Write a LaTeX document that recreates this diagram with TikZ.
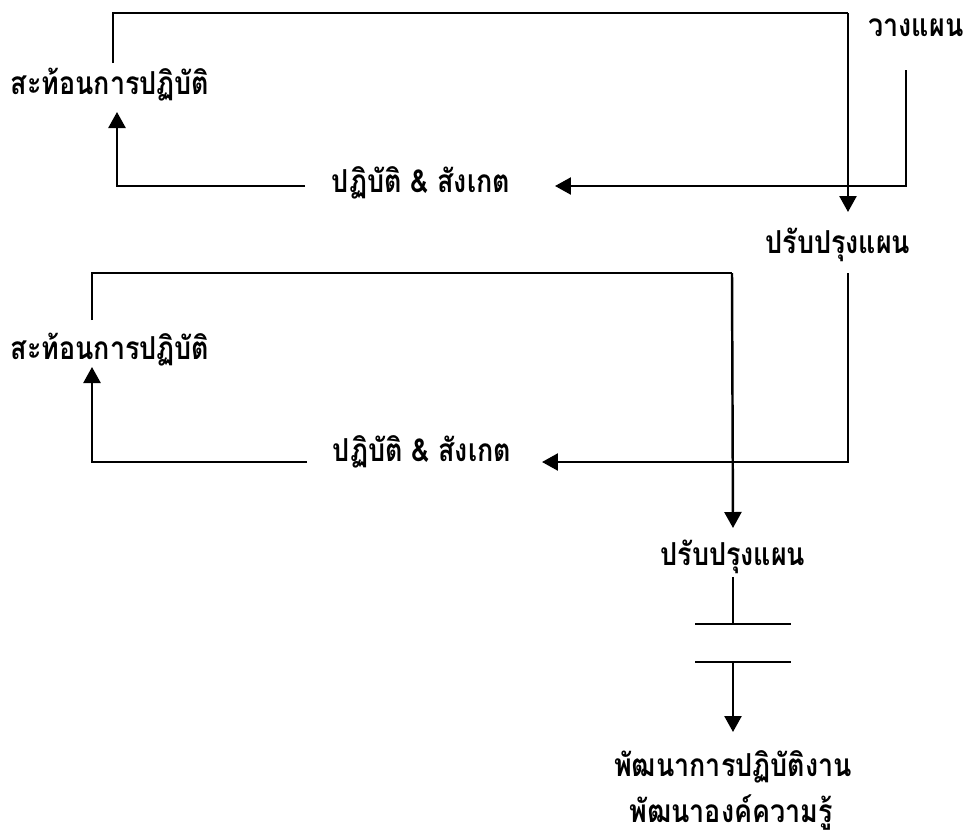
\documentclass[tikz,border=0pt]{standalone}
\usepackage{fontspec}
\usepackage{tikz}
\usetikzlibrary{positioning, arrows.meta, calc}
\newfontfamily\thaifont[Script=Thai, FakeStretch=0.85]{Loma}

\begin{document}
\begin{tikzpicture}[x=0.02cm, y=-0.02cm,
    lbl/.style={font=\thaifont\bfseries\fontsize{18}{21}\selectfont, inner sep=0pt},
    flow/.style={line width=1.4pt, black},
    arr/.style={flow, -{Triangle[length=0.32cm, width=0.34cm]}}]
  \useasboundingbox (0,0) rectangle (965,839);

  \node[lbl] (plan) at (916,28) {วางแผน};
  \node[lbl] (refl1) at (110,85) {สะท้อนการปฏิบัติ};
  \node[lbl] (act1) at (421,183) {ปฏิบัติ \& สังเกต};
  \node[lbl] (imp1) at (838,245) {ปรับปรุงแผน};

  \node[lbl] (refl2) at (110,350) {สะท้อนการปฏิบัติ};
  \node[lbl] (act2) at (422,452) {ปฏิบัติ \& สังเกต};
  \node[lbl] (imp2) at (733,557) {ปรับปรุงแผน};

  \node[lbl] (dev1) at (733,767) {พัฒนาการปฏิบัติงาน};
  \node[lbl] (dev2) at (731,813) {พัฒนาองค์ความรู้};

  % first cycle
  \coordinate (tl1) at (113,13);
  \coordinate (tr1) at (848,13);
  \draw[flow] ($(refl1)+(3,-22)$) -- (tl1) -- (tr1);
  \draw[arr] (tr1) -- ($(imp1)+(10,-33)$);
  \draw[arr] ($(plan)+(-10,42)$) |- ($(act1)+(134,3)$);
  \draw[arr] ($(act1)+(-116,3)$) -| ($(refl1)+(7,27)$);

  % second cycle
  \coordinate (tl2) at (92,273);
  \coordinate (tr2) at (732,273);
  \draw[flow] ($(refl2)+(-18,-30)$) -- (tl2) -- (tr2);
  \draw[arr] (tr2) -- ($(imp2)+(0,-29)$);
  \draw[arr] ($(imp1)+(10,28)$) |- ($(act2)+(120,10)$);
  \draw[arr] ($(act2)+(-115,10)$) -| ($(refl2)+(-18,17)$);

  % outcome
  \coordinate (bar1) at (733,624);
  \coordinate (bar2) at (733,662);
  \draw[flow] ($(imp2)+(0,20)$) -- (bar1);
  \draw[flow] ($(bar1)+(-38,0)$) -- ($(bar1)+(58,0)$);
  \draw[flow] ($(bar2)+(-38,0)$) -- ($(bar2)+(58,0)$);
  \draw[arr] (bar2) -- ($(dev1)+(0,-35)$);
\end{tikzpicture}
\end{document}
